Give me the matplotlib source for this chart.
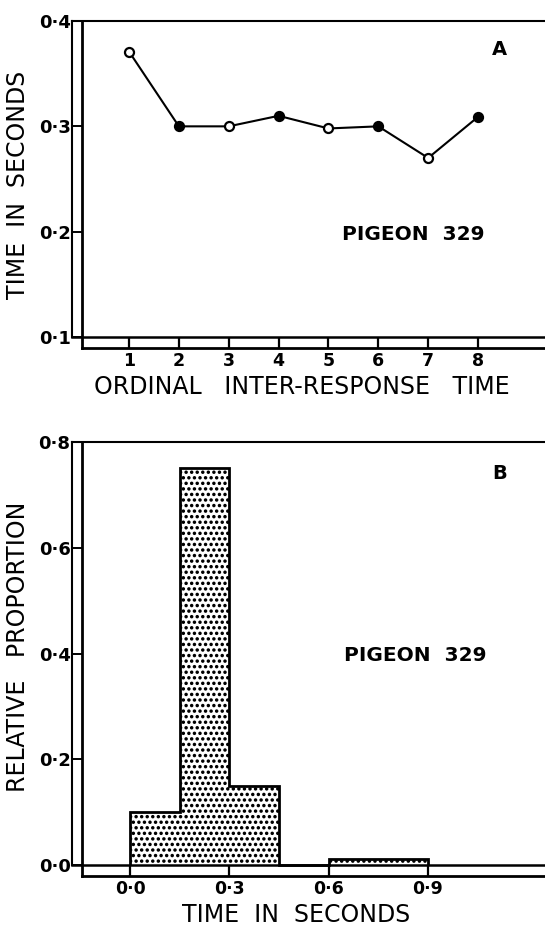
import matplotlib
matplotlib.use("Agg")
import matplotlib.pyplot as plt
import matplotlib.hatch as mhatch

# panel A data
ordinal = [1, 2, 3, 4, 5, 6, 7, 8]
irt_seconds = [0.371, 0.300, 0.300, 0.310, 0.298, 0.300, 0.270, 0.309]

# panel B data
bin_edges = [0.0, 0.15, 0.30, 0.45, 0.60, 0.75, 0.90]
rel_prop = [0.10, 0.75, 0.15, 0.0, 0.012, 0.012]

a_yticks = [0.1, 0.2, 0.3, 0.4]
a_ylabels = ["0·1", "0·2", "0·3", "0·4"]
b_xticks = [0.0, 0.3, 0.6, 0.9]
b_xlabels = ["0·0", "0·3", "0·6", "0·9"]
b_yticks = [0.0, 0.2, 0.4, 0.6, 0.8]
b_ylabels = ["0·0", "0·2", "0·4", "0·6", "0·8"]

marker_filled = [False, True, False, True, False, True, False, True]

plt.rcParams['font.family'] = ['DejaVu Sans']
plt.rcParams['hatch.linewidth'] = 1.2
# bigger solid stipple dots
mhatch.SmallFilledCircles.size = 0.16

W, H = 545, 926
fig = plt.figure(figsize=(W / 100, H / 100), dpi=100)


def px_axes(left, top, right, bottom):
    return fig.add_axes([left / W, 1 - bottom / H, (right - left) / W, (bottom - top) / H])


def frame(ax, base, top):
    # double-line frame of the original figure
    outer = -10 / 478
    t = ax.get_yaxis_transform()
    ax.plot([outer, outer], [base, top], color='k', lw=1.5, transform=t, clip_on=False)
    ax.plot([outer, 1], [base, base], color='k', lw=1.8, transform=t, clip_on=False)
    ax.plot([outer, 1], [1, 1], color='k', lw=1.5, transform=ax.transAxes, clip_on=False)
    for s in ['top', 'right']:
        ax.spines[s].set_visible(False)
    ax.spines['left'].set_linewidth(2.0)
    ax.spines['bottom'].set_linewidth(2.0)
    ax.tick_params(axis='y', direction='out', length=7.2, width=1.4, pad=1,
                   labelsize=13)
    ax.tick_params(axis='x', direction='in', length=7.9, width=1.6, pad=3,
                   labelsize=12.5)
    for lab in ax.get_xticklabels() + ax.get_yticklabels():
        lab.set_fontweight('bold')
    ax.xaxis.label.set_va('center')
    ax.yaxis.label.set_va('center')


# ---- panel A ----
axA = px_axes(82, 21, 560, 348)
axA.set_xlim(0.057, 9.644)
axA.set_ylim(0.0896, 0.4)
axA.plot(ordinal, irt_seconds, color='k', lw=1.5, zorder=2)
for x, y, f in zip(ordinal, irt_seconds, marker_filled):
    axA.plot(x, y, 'o', ms=6.5, mec='k', mew=1.6, mfc='k' if f else 'white', zorder=3)
axA.set_yticks(a_yticks)
axA.set_yticklabels(a_ylabels)
axA.set_xticks(ordinal)
axA.set_xticklabels([str(o) for o in ordinal])
axA.set_ylabel("TIME  IN  SECONDS", fontsize=17)
axA.set_xlabel("ORDINAL   INTER-RESPONSE   TIME", fontsize=17)
frame(axA, 0.1, 0.4)
axA.yaxis.set_label_coords(-0.134, 0.498)
axA.xaxis.set_label_coords(0.459, -0.119)
axA.text(8.42, 0.373, "A", fontsize=14, fontweight='bold', ha='center', va='center')
axA.text(6.70, 0.197, "PIGEON  329", fontsize=14.5, fontweight='bold', ha='center', va='center')

# ---- panel B ----
axB = px_axes(82, 442, 560, 876)
axB.set_xlim(-0.145, 1.2987)
axB.set_ylim(-0.0208, 0.8)
axB.stairs(rel_prop, bin_edges, fill=True, facecolor='white', edgecolor='k',
           hatch='...', lw=0, zorder=2)
axB.stairs(rel_prop, bin_edges, color='k', lw=2.0, zorder=3)
axB.set_yticks(b_yticks)
axB.set_yticklabels(b_ylabels)
axB.set_xticks(b_xticks)
axB.set_xticklabels(b_xlabels)
axB.set_ylabel("RELATIVE   PROPORTION", fontsize=17)
axB.set_xlabel("TIME  IN  SECONDS", fontsize=17)
frame(axB, 0.0, 0.8)
axB.yaxis.set_label_coords(-0.134, 0.528)
axB.xaxis.set_label_coords(0.448, -0.0899)
axB.text(1.117, 0.741, "B", fontsize=14, fontweight='bold', ha='center', va='center')
axB.text(0.861, 0.397, "PIGEON  329", fontsize=14.5, fontweight='bold', ha='center', va='center')

fig.savefig("out.png", dpi=100)
